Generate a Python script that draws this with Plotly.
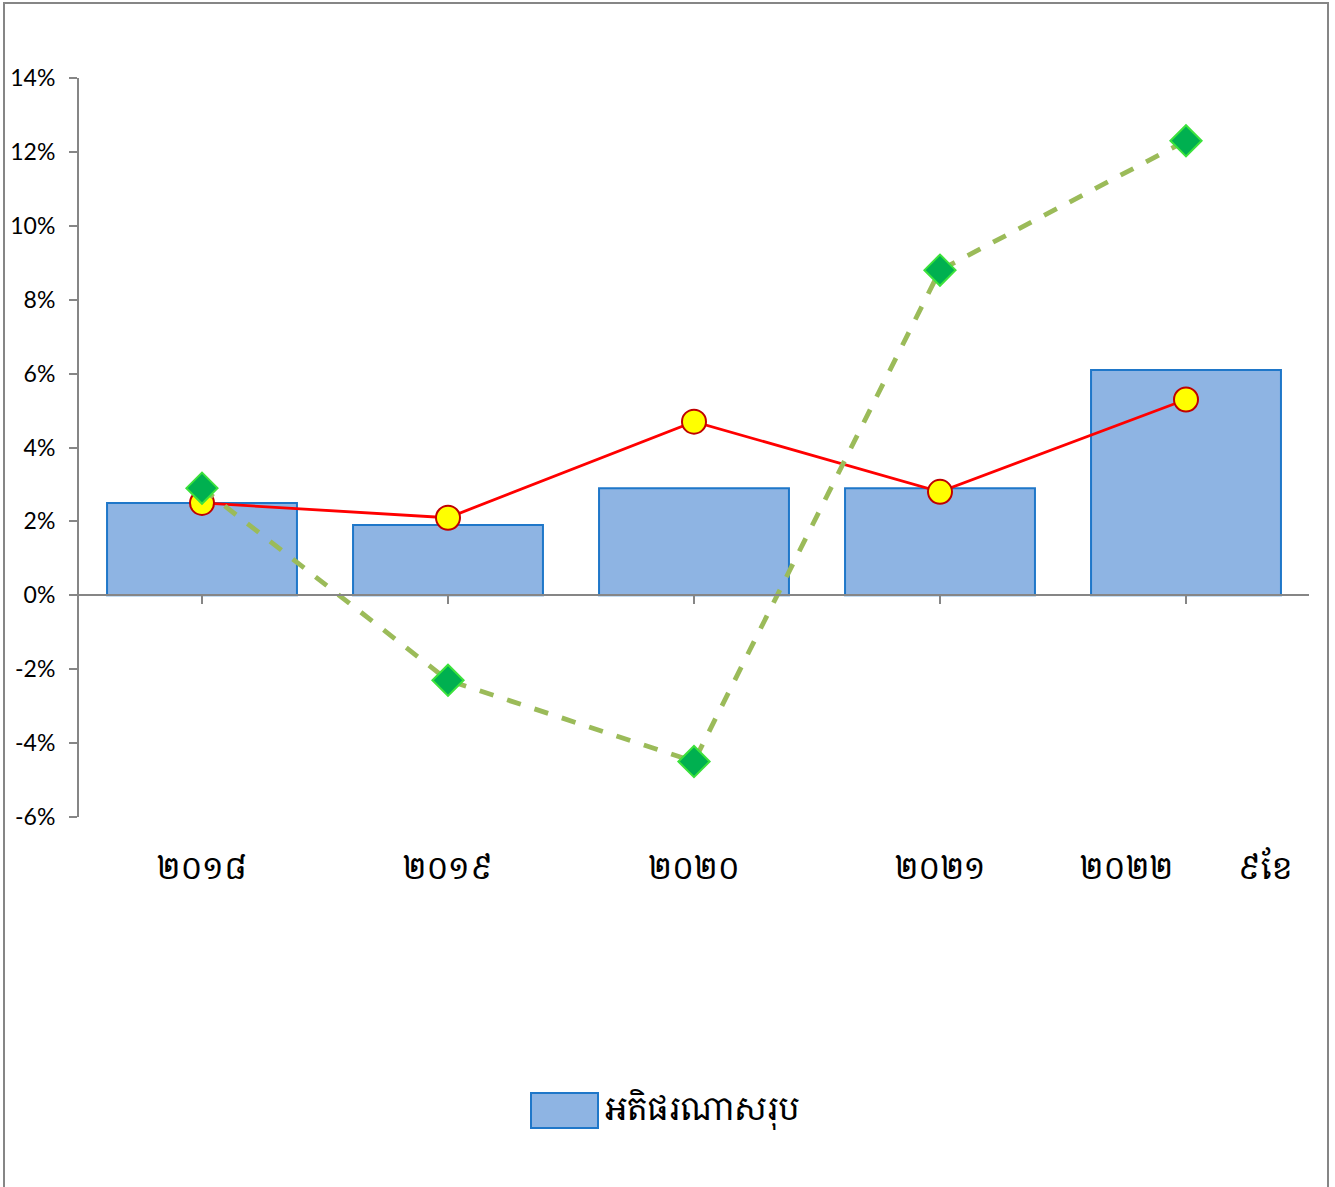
import plotly.graph_objects as go

categories = ["២០១៨", "២០១៩", "២០២០", "២០២១", "២០២២\u00a0\u00a0\u00a0\u00a0\u00a0\u00a0\u00a0\u00a0៩ខែ"]
bar_name = "អតិផរណាសរុប"
bar_values = [2.5, 1.9, 2.9, 2.9, 6.1]
red_values = [2.5, 2.1, 4.7, 2.8, 5.3]
green_values = [2.9, -2.3, -4.5, 8.8, 12.3]
y_ticks = [-6, -4, -2, 0, 2, 4, 6, 8, 10, 12, 14]
y_tick_labels = [f"{v}%" for v in y_ticks]

khmer_font = "Noto Serif Khmer, Khmer OS, Noto Sans Khmer, DejaVu Sans, serif"
num_font = "Lato, Open Sans, sans-serif"

fig = go.Figure()
fig.add_trace(go.Bar(
    x=categories, y=bar_values, name=bar_name,
    marker=dict(color="#8EB4E3", line=dict(color="#1F77C9", width=2)),
    showlegend=False,
))
# helper trace for tick marks on the zero-line axis
fig.add_trace(go.Scatter(
    x=categories, y=bar_values, xaxis="x2", yaxis="y", mode="markers",
    marker=dict(opacity=0), showlegend=False, hoverinfo="skip",
))
fig.add_trace(go.Scatter(
    x=categories, y=red_values, mode="lines+markers", showlegend=False,
    line=dict(color="#FF0000", width=2.8),
    marker=dict(symbol="circle", size=24, color="#FFFF00", line=dict(color="#C00000", width=2)),
))
fig.add_trace(go.Scatter(
    x=categories, y=green_values, mode="lines+markers", showlegend=False,
    line=dict(color="#9BBB59", width=4.8, dash="dash"),
    marker=dict(symbol="diamond", size=24, color="#00B050", line=dict(color="#3CE23C", width=2)),
))

ymin, ymax = -6, 14
L, T, R, B = 79, 78, 26, 370
W, H = 1335, 1187
pw, ph = W - L - R, H - T - B

def px(x):
    return (x - L) / pw

def py(y):
    return (H - B - y) / ph

fig.update_layout(
    width=W, height=H,
    margin=dict(l=L, r=R, t=T, b=B),
    paper_bgcolor="white", plot_bgcolor="white",
    bargap=0.228,
    xaxis=dict(
        type="category", showline=False, showgrid=False, zeroline=False,
        ticks="", tickfont=dict(family=khmer_font, size=31, color="black"),
        ticklabelstandoff=30, automargin=False,
    ),
    xaxis2=dict(
        type="category", overlaying="x", matches="x", anchor="free",
        position=(0 - ymin) / (ymax - ymin), side="bottom",
        showline=True, linecolor="#868686", linewidth=2,
        ticks="outside", ticklen=8, tickcolor="#868686", tickwidth=2,
        showticklabels=False, showgrid=False, zeroline=False, automargin=False,
    ),
    yaxis=dict(
        range=[ymin, ymax], tickvals=y_ticks, ticktext=y_tick_labels,
        showline=True, linecolor="#868686", linewidth=2,
        ticks="outside", ticklen=8, tickcolor="#868686", tickwidth=2,
        showgrid=False, zeroline=False, automargin=False,
        tickfont=dict(family=num_font, size=23, color="black"),
        ticklabelstandoff=9,
    ),
    showlegend=False,
    shapes=[
        dict(type="rect", xref="paper", yref="paper",
             x0=px(4), x1=px(1328), y0=py(1195), y1=py(3),
             line=dict(color="#868686", width=2), fillcolor="rgba(0,0,0,0)", layer="below"),
        dict(type="rect", xref="paper", yref="paper",
             x0=px(531), x1=px(598), y0=py(1128), y1=py(1093),
             line=dict(color="#1F77C9", width=2), fillcolor="#8EB4E3"),
    ],
    annotations=[
        dict(text=bar_name, xref="paper", yref="paper", x=px(603), y=py(1108),
             xanchor="left", yanchor="middle", showarrow=False,
             font=dict(family=khmer_font, size=32, color="black")),
    ],
)

fig.write_html("out.html", config={"displayModeBar": False},
               post_script="document.body.style.margin='0';")
